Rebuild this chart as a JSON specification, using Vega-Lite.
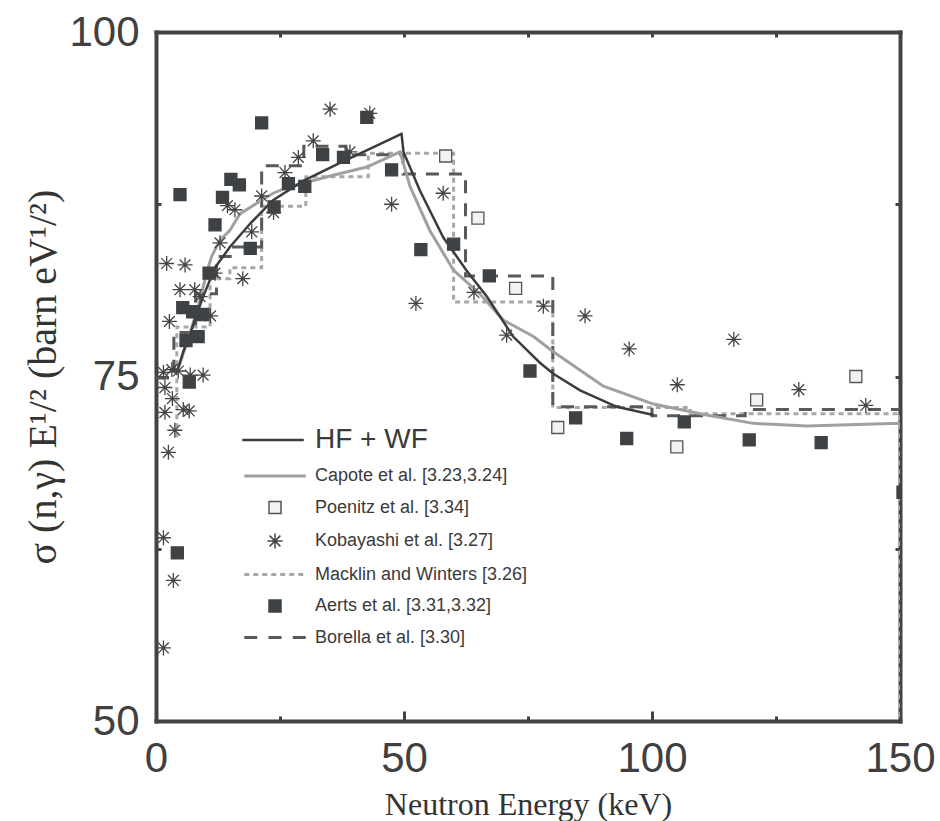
{
  "$schema": "https://vega.github.io/schema/vega-lite/v6.json",
  "width": 744,
  "height": 689,
  "autosize": {"type": "none"},
  "padding": {"left": 156, "top": 32, "right": 40, "bottom": 100},
  "background": "white",
  "config": {
    "view": {"stroke": null},
    "axis": {
      "domainColor": "#414346", "domainWidth": 4, "domainCap": "square",
      "tickColor": "#414346", "tickWidth": 3, "grid": false,
      "labelFont": "Liberation Sans", "labelFontSize": 42, "labelColor": "#404040",
      "titleFont": "Liberation Serif", "titleFontWeight": "normal", "titleColor": "#333333"
    }
  },
  "datasets": {
    "hfwf": [
      {"E": 4.2, "v": 75.3}, {"E": 5.5, "v": 76.8}, {"E": 6.9, "v": 78.1}, {"E": 8.2, "v": 79.5},
      {"E": 9.5, "v": 80.8}, {"E": 11.9, "v": 82.9}, {"E": 14.9, "v": 84.4}, {"E": 19.0, "v": 86.1},
      {"E": 23.6, "v": 87.8}, {"E": 29.7, "v": 89.2}, {"E": 37.1, "v": 90.5}, {"E": 43.0, "v": 91.5},
      {"E": 49.5, "v": 92.6}, {"E": 49.9, "v": 91.3}, {"E": 53.2, "v": 88.5}, {"E": 57.9, "v": 85.1},
      {"E": 62.6, "v": 82.7}, {"E": 66.7, "v": 80.8}, {"E": 72.0, "v": 77.9}, {"E": 77.4, "v": 76.0},
      {"E": 80.1, "v": 75.2}, {"E": 85.5, "v": 74.0}, {"E": 92.9, "v": 72.8}, {"E": 100.3, "v": 72.2}
    ],
    "capote": [
      {"E": 4.0, "v": 75.2}, {"E": 4.8, "v": 75.9}, {"E": 6.9, "v": 78.2}, {"E": 8.9, "v": 80.6},
      {"E": 10.2, "v": 82.5}, {"E": 11.2, "v": 83.7}, {"E": 12.9, "v": 84.9}, {"E": 14.9, "v": 85.6},
      {"E": 16.9, "v": 86.8}, {"E": 20.0, "v": 87.5}, {"E": 23.6, "v": 88.3}, {"E": 26.4, "v": 88.7},
      {"E": 30.4, "v": 89.1}, {"E": 35.7, "v": 89.6}, {"E": 42.5, "v": 90.2}, {"E": 49.2, "v": 91.3},
      {"E": 51.2, "v": 88.8}, {"E": 55.2, "v": 85.6}, {"E": 60.0, "v": 82.7}, {"E": 65.3, "v": 81.0},
      {"E": 70.0, "v": 79.1}, {"E": 76.1, "v": 77.9}, {"E": 80.1, "v": 76.8}, {"E": 90.2, "v": 74.3},
      {"E": 100.3, "v": 73.0}, {"E": 111.0, "v": 72.2}, {"E": 120.4, "v": 71.6}, {"E": 131.2, "v": 71.4},
      {"E": 150.0, "v": 71.6}
    ],
    "macklin": [
      {"E": 4.2, "v": 70.6}, {"E": 4.2, "v": 78.6}, {"E": 10.9, "v": 78.6}, {"E": 10.9, "v": 82.1},
      {"E": 14.9, "v": 82.1}, {"E": 14.9, "v": 82.9}, {"E": 21.3, "v": 82.9}, {"E": 21.3, "v": 87.35},
      {"E": 30.2, "v": 87.35}, {"E": 30.2, "v": 89.5}, {"E": 42.8, "v": 89.5}, {"E": 42.8, "v": 91.2},
      {"E": 60.0, "v": 91.2}, {"E": 60.0, "v": 80.4}, {"E": 80.0, "v": 80.4}, {"E": 80.0, "v": 72.75},
      {"E": 107.7, "v": 72.75}, {"E": 107.7, "v": 72.3}, {"E": 150.0, "v": 72.3}, {"E": 150.0, "v": 50.0}
    ],
    "borella": [
      {"E": 0.0, "v": 74.9}, {"E": 3.6, "v": 74.9}, {"E": 3.6, "v": 78.2}, {"E": 8.0, "v": 78.2},
      {"E": 8.0, "v": 81.0}, {"E": 12.2, "v": 81.0}, {"E": 12.2, "v": 83.7}, {"E": 15.3, "v": 83.7},
      {"E": 15.3, "v": 84.4}, {"E": 21.3, "v": 84.4}, {"E": 21.3, "v": 90.3}, {"E": 29.8, "v": 90.3},
      {"E": 29.8, "v": 91.7}, {"E": 38.3, "v": 91.7}, {"E": 38.3, "v": 91.1}, {"E": 49.8, "v": 91.1},
      {"E": 49.8, "v": 89.7}, {"E": 62.4, "v": 89.7}, {"E": 62.4, "v": 82.3}, {"E": 80.0, "v": 82.3},
      {"E": 80.0, "v": 72.8}, {"E": 100.0, "v": 72.8}, {"E": 100.0, "v": 72.15}, {"E": 118.8, "v": 72.15},
      {"E": 118.8, "v": 72.6}, {"E": 150.0, "v": 72.6}
    ],
    "points": [
      {"series": "Aerts", "E": 4.84, "v": 88.2}, {"series": "Aerts", "E": 21.3, "v": 93.4},
      {"series": "Aerts", "E": 15.1, "v": 89.3}, {"series": "Aerts", "E": 16.8, "v": 88.9},
      {"series": "Aerts", "E": 13.4, "v": 88.0}, {"series": "Aerts", "E": 11.9, "v": 86.0},
      {"series": "Aerts", "E": 19.0, "v": 84.3}, {"series": "Aerts", "E": 10.7, "v": 82.5},
      {"series": "Aerts", "E": 5.4, "v": 80.0}, {"series": "Aerts", "E": 7.4, "v": 79.7},
      {"series": "Aerts", "E": 9.5, "v": 79.5}, {"series": "Aerts", "E": 6.05, "v": 77.6},
      {"series": "Aerts", "E": 8.5, "v": 77.9}, {"series": "Aerts", "E": 6.7, "v": 74.6},
      {"series": "Aerts", "E": 26.7, "v": 89.0}, {"series": "Aerts", "E": 30.0, "v": 88.8},
      {"series": "Aerts", "E": 23.8, "v": 87.3}, {"series": "Aerts", "E": 33.6, "v": 91.1},
      {"series": "Aerts", "E": 37.8, "v": 90.9}, {"series": "Aerts", "E": 42.5, "v": 93.8},
      {"series": "Aerts", "E": 47.5, "v": 90.0}, {"series": "Aerts", "E": 53.4, "v": 84.2},
      {"series": "Aerts", "E": 60.0, "v": 84.6}, {"series": "Aerts", "E": 67.2, "v": 82.3},
      {"series": "Aerts", "E": 75.4, "v": 75.4}, {"series": "Aerts", "E": 84.6, "v": 72.0},
      {"series": "Aerts", "E": 94.9, "v": 70.5}, {"series": "Aerts", "E": 106.5, "v": 71.7},
      {"series": "Aerts", "E": 119.6, "v": 70.4}, {"series": "Aerts", "E": 134.1, "v": 70.2},
      {"series": "Aerts", "E": 4.3, "v": 62.2}, {"series": "Aerts", "E": 150.6, "v": 66.6},
      {"series": "Poenitz", "E": 58.4, "v": 91.0}, {"series": "Poenitz", "E": 64.9, "v": 86.5},
      {"series": "Poenitz", "E": 72.5, "v": 81.4}, {"series": "Poenitz", "E": 81.0, "v": 71.3},
      {"series": "Poenitz", "E": 105.0, "v": 69.9}, {"series": "Poenitz", "E": 121.1, "v": 73.3},
      {"series": "Poenitz", "E": 141.1, "v": 75.0},
      {"series": "Kobayashi", "E": 35.1, "v": 94.4}, {"series": "Kobayashi", "E": 43.1, "v": 94.1},
      {"series": "Kobayashi", "E": 31.7, "v": 92.1}, {"series": "Kobayashi", "E": 28.7, "v": 90.9},
      {"series": "Kobayashi", "E": 39.1, "v": 91.3}, {"series": "Kobayashi", "E": 26.0, "v": 89.8},
      {"series": "Kobayashi", "E": 21.3, "v": 88.1}, {"series": "Kobayashi", "E": 14.4, "v": 87.4},
      {"series": "Kobayashi", "E": 15.9, "v": 87.1}, {"series": "Kobayashi", "E": 23.7, "v": 86.9},
      {"series": "Kobayashi", "E": 19.3, "v": 85.5}, {"series": "Kobayashi", "E": 12.9, "v": 84.7},
      {"series": "Kobayashi", "E": 17.5, "v": 82.1}, {"series": "Kobayashi", "E": 11.9, "v": 82.5},
      {"series": "Kobayashi", "E": 2.15, "v": 83.2}, {"series": "Kobayashi", "E": 5.85, "v": 83.1},
      {"series": "Kobayashi", "E": 4.84, "v": 81.3}, {"series": "Kobayashi", "E": 7.8, "v": 81.3},
      {"series": "Kobayashi", "E": 8.9, "v": 80.8}, {"series": "Kobayashi", "E": 11.0, "v": 79.4},
      {"series": "Kobayashi", "E": 2.7, "v": 79.0}, {"series": "Kobayashi", "E": 1.5, "v": 75.3},
      {"series": "Kobayashi", "E": 3.2, "v": 75.5}, {"series": "Kobayashi", "E": 4.5, "v": 75.4},
      {"series": "Kobayashi", "E": 6.9, "v": 75.1}, {"series": "Kobayashi", "E": 9.5, "v": 75.1},
      {"series": "Kobayashi", "E": 1.8, "v": 74.2}, {"series": "Kobayashi", "E": 3.3, "v": 73.4},
      {"series": "Kobayashi", "E": 1.8, "v": 72.4}, {"series": "Kobayashi", "E": 5.5, "v": 72.6},
      {"series": "Kobayashi", "E": 6.7, "v": 72.5}, {"series": "Kobayashi", "E": 3.8, "v": 71.1},
      {"series": "Kobayashi", "E": 2.5, "v": 69.5}, {"series": "Kobayashi", "E": 1.5, "v": 63.3},
      {"series": "Kobayashi", "E": 3.5, "v": 60.2}, {"series": "Kobayashi", "E": 1.5, "v": 55.3},
      {"series": "Kobayashi", "E": 47.5, "v": 87.5}, {"series": "Kobayashi", "E": 57.9, "v": 88.3},
      {"series": "Kobayashi", "E": 64.1, "v": 81.1}, {"series": "Kobayashi", "E": 52.4, "v": 80.3},
      {"series": "Kobayashi", "E": 78.1, "v": 80.1}, {"series": "Kobayashi", "E": 70.7, "v": 78.0},
      {"series": "Kobayashi", "E": 86.5, "v": 79.4}, {"series": "Kobayashi", "E": 95.4, "v": 77.0},
      {"series": "Kobayashi", "E": 116.5, "v": 77.7}, {"series": "Kobayashi", "E": 105.1, "v": 74.4},
      {"series": "Kobayashi", "E": 129.6, "v": 74.05}, {"series": "Kobayashi", "E": 143.1, "v": 72.9}
    ]
  },
  "layer": [
    {
      "data": {"name": "macklin"},
      "mark": {"type": "line", "stroke": "#a8a8a8", "strokeWidth": 3, "strokeDash": [5, 4], "clip": true},
      "encoding": {
        "x": {
          "field": "E", "type": "quantitative",
          "scale": {"domain": [0, 150], "nice": false, "zero": false},
          "axis": {
            "orient": "bottom", "values": [0, 25, 50, 75, 100, 125, 150],
            "labelExpr": "datum.value % 50 === 0 ? datum.label : ''",
            "tickSize": {"condition": {"test": "datum.value % 50 === 0", "value": -10}, "value": -5},
            "labelPadding": 27, "labelFlush": false, "labelOverlap": false,
            "title": "Neutron Energy (keV)", "titleFontSize": 32,
            "titleY": 93, "titleBaseline": "alphabetic"
          }
        },
        "y": {
          "field": "v", "type": "quantitative",
          "scale": {"domain": [50, 100], "nice": false, "zero": false},
          "axis": {
            "orient": "left", "values": [50, 62.5, 75, 87.5, 100],
            "labelExpr": "datum.value % 25 === 0 ? datum.label : ''",
            "tickSize": {"condition": {"test": "datum.value % 25 === 0", "value": -10}, "value": -5},
            "labelPadding": 27, "labelFlush": false, "labelOverlap": false,
            "title": "σ (n,γ) E¹/² (barn eV¹/²)", "titleFontSize": 40,
            "titleX": -113, "titleY": 344.5, "titleAngle": -90,
            "titleAlign": "center", "titleBaseline": "middle"
          }
        },
        "order": {"value": null}
      }
    },
    {
      "data": {"name": "borella"},
      "mark": {"type": "line", "stroke": "#58595b", "strokeWidth": 3, "strokeDash": [13, 10], "clip": true},
      "encoding": {
        "x": {"field": "E", "type": "quantitative", "axis": null},
        "y": {"field": "v", "type": "quantitative", "axis": null},
        "order": {"value": null}
      }
    },
    {
      "data": {"name": "capote"},
      "mark": {"type": "line", "stroke": "#a0a0a0", "strokeWidth": 3, "clip": true},
      "encoding": {
        "x": {"field": "E", "type": "quantitative", "axis": null},
        "y": {"field": "v", "type": "quantitative", "axis": null},
        "order": {"value": null}
      }
    },
    {
      "data": {"name": "hfwf"},
      "mark": {"type": "line", "strokeWidth": 2.5, "clip": true},
      "encoding": {
        "x": {"field": "E", "type": "quantitative", "axis": null},
        "y": {"field": "v", "type": "quantitative", "axis": null},
        "order": {"value": null},
        "color": {
          "datum": "HF + WF", "type": "nominal",
          "scale": {"domain": ["HF + WF"], "range": ["#3a3c40"]},
          "legend": {
            "orient": "none", "legendX": 103, "legendY": 394, "title": null,
            "labelFont": "Liberation Sans", "labelFontSize": 28, "labelColor": "#3a3a3a",
            "labelOffset": 28, "symbolType": "M-4.1,0H4.1", "symbolSize": 225, "symbolStrokeWidth": 2.5
          }
        }
      }
    },
    {
      "data": {"name": "points"},
      "mark": {"type": "point", "size": 225, "opacity": 1, "strokeWidth": 1.3, "strokeJoin": "miter", "clip": true},
      "encoding": {
        "x": {
          "field": "E", "type": "quantitative",
          "axis": {"orient": "top", "values": [0, 25, 50, 75, 100, 125, 150], "labels": false, "title": null, "tickSize": -5}
        },
        "y": {
          "field": "v", "type": "quantitative",
          "axis": {"orient": "right", "values": [50, 62.5, 75, 87.5, 100], "labels": false, "title": null, "tickSize": -5}
        },
        "shape": {
          "field": "series", "type": "nominal",
          "scale": {
            "domain": ["Capote", "Poenitz", "Kobayashi", "Macklin", "Aerts", "Borella"],
            "range": [
              "M-4.1,-0.2H4.1V0.2H-4.1Z",
              "M-0.8,-0.8H0.8V0.8H-0.8Z",
              "M0,-1V1M-1,0H1M-0.72,-0.72L0.72,0.72M-0.72,0.72L0.72,-0.72",
              "M-4.1,-0.2H-3.43V0.2H-4.1ZM-2.9,-0.2H-2.23V0.2H-2.9ZM-1.7,-0.2H-1.03V0.2H-1.7ZM-0.5,-0.2H0.17V0.2H-0.5ZM0.7,-0.2H1.37V0.2H0.7ZM1.9,-0.2H2.57V0.2H1.9ZM3.1,-0.2H3.77V0.2H3.1Z",
              "M-0.8,-0.8H0.8V0.8H-0.8Z",
              "M-4.1,-0.2H-2.37V0.2H-4.1ZM-0.87,-0.2H0.87V0.2H-0.87ZM2.37,-0.2H4.1V0.2H2.37Z"
            ]
          },
          "legend": {
            "orient": "none", "legendX": 110, "legendY": 435, "title": null,
            "labelFont": "Liberation Sans", "labelFontSize": 18, "labelColor": "#3a3a3a",
            "labelLimit": 400, "labelOffset": 31, "rowPadding": 13.5, "symbolSize": 225,
            "labelExpr": "datum.value === 'Capote' ? 'Capote et al. [3.23,3.24]' : datum.value === 'Poenitz' ? 'Poenitz et al. [3.34]' : datum.value === 'Kobayashi' ? 'Kobayashi et al. [3.27]' : datum.value === 'Macklin' ? 'Macklin and Winters [3.26]' : datum.value === 'Aerts' ? 'Aerts et al. [3.31,3.32]' : 'Borella et al. [3.30]'"
          }
        },
        "fill": {
          "field": "series", "type": "nominal",
          "scale": {
            "domain": ["Capote", "Poenitz", "Kobayashi", "Macklin", "Aerts", "Borella"],
            "range": ["#a0a0a0", "#f2f2f2", "transparent", "#a8a8a8", "#3f4245", "#58595b"]
          }
        },
        "stroke": {
          "field": "series", "type": "nominal",
          "scale": {
            "domain": ["Capote", "Poenitz", "Kobayashi", "Macklin", "Aerts", "Borella"],
            "range": ["transparent", "#555555", "#444444", "transparent", "#3f4245", "transparent"]
          }
        }
      }
    }
  ],
  "resolve": {"axis": {"x": "independent", "y": "independent"}}
}
